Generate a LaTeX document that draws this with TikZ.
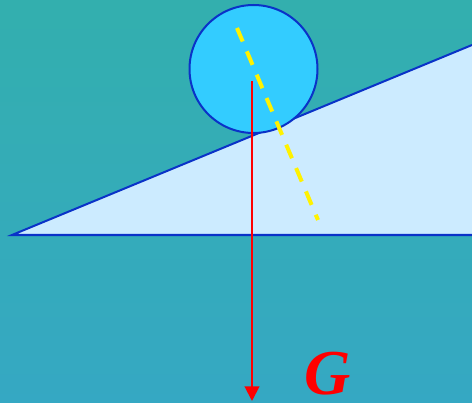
\documentclass[tikz,border=0pt]{standalone}
\usepackage{fontspec}
\setmainfont{Liberation Serif}
\usetikzlibrary{arrows.meta,positioning,shapes.geometric}
\definecolor{bgtop}{RGB}{51,175,174}
\definecolor{bgbot}{RGB}{53,168,195}
\definecolor{edgeblue}{RGB}{10,50,200}
\definecolor{ballfill}{RGB}{51,204,255}
\definecolor{slopefill}{RGB}{204,235,255}

\begin{document}
\begin{tikzpicture}[x=0.75pt,y=-0.75pt,
    ball/.style={circle,draw=edgeblue,line width=1.5pt,fill=ballfill,
                 minimum size=96pt,inner sep=0pt},
    slope/.style={draw=edgeblue,line width=1.5pt,fill=slopefill},
    normal/.style={yellow,line width=3pt,dash pattern=on 11pt off 8pt},
    force/.style={red,line width=1.5pt,-{Triangle[width=11pt,length=11pt]}}]
  % background
  \shade[top color=bgtop,bottom color=bgbot] (0,0) rectangle (472,403);
  \useasboundingbox (0,0) rectangle (472,403);
  % incline
  \coordinate (left) at (12,235);
  \coordinate (base) at (472,235);
  \coordinate (top) at (472,45);
  \path[slope] (base) -- (left) -- (top);
  % ball on the incline
  \node[ball] (ball) at (253.5,69) {};
  % normal direction
  \coordinate (n1) at (237,28);
  \coordinate (n2) at (318,220);
  \draw[normal] (n1) -- (n2);
  % weight
  \coordinate (g1) at (252,81);
  \coordinate (g2) at (252,401);
  \draw[force] (g1) -- (g2);
  \node[red,inner sep=0pt,anchor=base,
        font=\fontsize{48}{48}\selectfont\bfseries\itshape] (G) at (328,394) {G};
\end{tikzpicture}
\end{document}
